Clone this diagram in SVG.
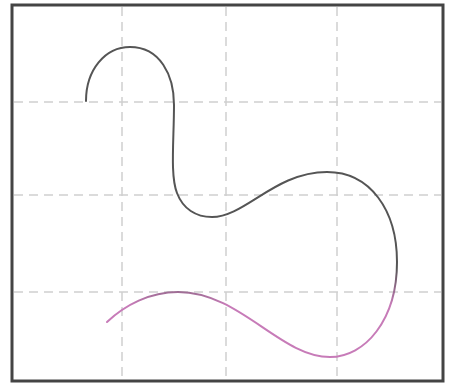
<svg xmlns="http://www.w3.org/2000/svg" width="455" height="385" viewBox="0 0 455 385">
<defs>
<linearGradient id="g" gradientUnits="userSpaceOnUse" x1="0" y1="268" x2="0" y2="305">
<stop offset="0" stop-color="#555"/>
<stop offset="1" stop-color="#c77bb8"/>
</linearGradient>
<style>
.grid{stroke:#cfcfcf;stroke-width:1.5;stroke-dasharray:9 6;fill:none}
.frame{fill:#fff;stroke:#444;stroke-width:3}
.curve{fill:none;stroke:url(#g);stroke-width:2;stroke-linecap:round}
</style>
</defs>
<rect class="frame" x="12" y="5" width="431" height="376"/>
<g id="grid">
<line class="grid" x1="122" y1="7" x2="122" y2="379"/>
<line class="grid" x1="226" y1="7" x2="226" y2="379"/>
<line class="grid" x1="337" y1="7" x2="337" y2="379"/>
<line class="grid" x1="14" y1="102" x2="441" y2="102"/>
<line class="grid" x1="14" y1="195" x2="441" y2="195"/>
<line class="grid" x1="14" y1="292" x2="441" y2="292"/>
</g>
<path class="curve" d="M86,101 C86,70 105,47 130,47 C160,47 174,75 174,105 C174,140 170,175 177,193 C183,209 196,217 212,217 C245,217 275,172 327,172 C370,172 397,210 397,262 C397,320 365,357 330,357 C280,357 240,292 178,292 C150,292 125,305 107,322"/>
</svg>
